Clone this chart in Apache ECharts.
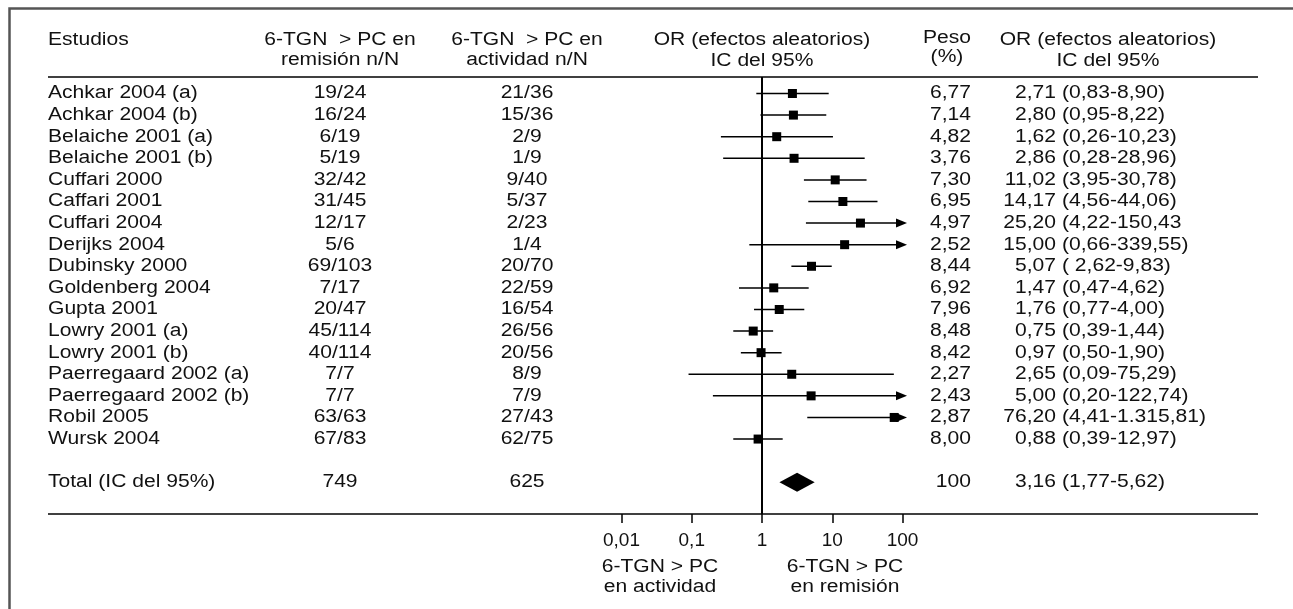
<!DOCTYPE html>
<html>
<head>
<meta charset="utf-8">
<script src="https://cdn.jsdelivr.net/npm/echarts@6/dist/echarts.min.js"></script>
<style>
html, body { margin: 0; padding: 0; background: #fff; }
#main { width: 1293px; height: 609px; }
</style>
</head>
<body>
<div id="main"></div>
<script>
var studies = ['Achkar 2004 (a)', 'Achkar 2004 (b)', 'Belaiche 2001 (a)', 'Belaiche 2001 (b)', 'Cuffari 2000',
  'Caffari 2001', 'Cuffari 2004', 'Derijks 2004', 'Dubinsky 2000', 'Goldenberg 2004', 'Gupta 2001',
  'Lowry 2001 (a)', 'Lowry 2001 (b)', 'Paerregaard 2002 (a)', 'Paerregaard 2002 (b)', 'Robil 2005', 'Wursk 2004'];
var remision = ['19/24', '16/24', '6/19', '5/19', '32/42', '31/45', '12/17', '5/6', '69/103', '7/17', '20/47',
  '45/114', '40/114', '7/7', '7/7', '63/63', '67/83'];
var actividad = ['21/36', '15/36', '2/9', '1/9', '9/40', '5/37', '2/23', '1/4', '20/70', '22/59', '16/54',
  '26/56', '20/56', '8/9', '7/9', '27/43', '62/75'];
var peso = [6.77, 7.14, 4.82, 3.76, 7.30, 6.95, 4.97, 2.52, 8.44, 6.92, 7.96, 8.48, 8.42, 2.27, 2.43, 2.87, 8.00];
var oddsRatio = [2.71, 2.80, 1.62, 2.86, 11.02, 14.17, 25.20, 15.00, 5.07, 1.47, 1.76, 0.75, 0.97, 2.65, 5.00, 76.20, 0.88];
var ciLow = [0.83, 0.95, 0.26, 0.28, 3.95, 4.56, 4.22, 0.66, 2.62, 0.47, 0.77, 0.39, 0.50, 0.09, 0.20, 4.41, 0.39];
var ciHigh = [8.90, 8.22, 10.23, 28.96, 30.78, 44.06, 150.43, 339.55, 9.83, 4.62, 4.00, 1.44, 1.90, 75.29, 122.74, 1315.81, 1.97];
var ciText = ['(0,83-8,90)', '(0,95-8,22)', '(0,26-10,23)', '(0,28-28,96)', '(3,95-30,78)', '(4,56-44,06)',
  '(4,22-150,43', '(0,66-339,55)', '( 2,62-9,83)', '(0,47-4,62)', '(0,77-4,00)', '(0,39-1,44)', '(0,50-1,90)',
  '(0,09-75,29)', '(0,20-122,74)', '(4,41-1.315,81)', '(0,39-12,97)'];

var totalText = ['Total (IC del 95%)', '749', '625', '100'];
var totalOR = [3.16, 1.77, 5.62];
var totalCi = '(1,77-5,62)';
var totalRow = 18;

var tickLabels = ['0,01', '0,1', '1', '10', '100'];

var FONT = '18px "Liberation Sans", Arial, Helvetica, sans-serif';
var SX = 1.17;
var ARROW_CAP = 116;
var COL = { name: 48, rem: 340, act: 527, peso: 971, est: 1056, ci: 1062 };

function txt(x, y, s, align) {
  return {
    type: 'text', x: x, y: y, scaleX: SX, silent: true,
    style: { text: s, fill: '#111', font: FONT, align: align || 'left', verticalAlign: 'middle' }
  };
}
function num(v) {
  var p = v.toFixed(2).split('.');
  p[0] = p[0].replace(/\B(?=(\d{3})+(?!\d))/g, '.');
  return p.join(',');
}

var myChart = echarts.init(document.getElementById('main'));

var rowData = studies.map(function (s, i) {
  return [oddsRatio[i], i, ciLow[i], ciHigh[i]];
});

var option = {
  animation: false,
  grid: { left: 621.5, right: 390.5, top: 77, bottom: 95 },
  xAxis: {
    type: 'log',
    logBase: 10,
    min: 0.01,
    max: 100,
    position: 'bottom',
    axisLine: { show: false, onZero: false },
    axisTick: { show: true, length: 9, lineStyle: { color: '#000', width: 1.5 } },
    splitLine: { show: false },
    axisLabel: {
      margin: 17,
      color: '#111',
      fontSize: 19,
      fontFamily: '"Liberation Sans", Arial, sans-serif',
      formatter: function (v) {
        return tickLabels[Math.round(Math.log(v) / Math.LN10) + 2];
      }
    }
  },
  yAxis: { type: 'value', inverse: true, min: -0.764, max: 19.47, show: false },
  graphic: [
    { type: 'polyline', silent: true, shape: { points: [[9.5, 609], [9.5, 8.5], [1293, 8.5]] },
      style: { stroke: '#555', lineWidth: 2.5, fill: null } },
    { type: 'line', silent: true, shape: { x1: 48, y1: 77, x2: 1258, y2: 77 }, style: { stroke: '#000', lineWidth: 1.5 } },
    { type: 'line', silent: true, shape: { x1: 48, y1: 514, x2: 1258, y2: 514 }, style: { stroke: '#000', lineWidth: 1.5 } },
    txt(COL.name, 40, 'Estudios'),
    txt(COL.rem, 40, '6-TGN  > PC en', 'center'),
    txt(COL.rem, 60, 'remisión n/N', 'center'),
    txt(COL.act, 40, '6-TGN  > PC en', 'center'),
    txt(COL.act, 60, 'actividad n/N', 'center'),
    txt(762, 40, 'OR (efectos aleatorios)', 'center'),
    txt(762, 61, 'IC del 95%', 'center'),
    txt(947, 38, 'Peso', 'center'),
    txt(947, 57, '(%)', 'center'),
    txt(1108, 40, 'OR (efectos aleatorios)', 'center'),
    txt(1108, 61, 'IC del 95%', 'center'),
    txt(660, 567, '6-TGN > PC', 'center'),
    txt(660, 587, 'en actividad', 'center'),
    txt(845, 567, '6-TGN > PC', 'center'),
    txt(845, 587, 'en remisión', 'center')
  ],
  series: [
    {
      type: 'custom',
      clip: false,
      silent: true,
      encode: { x: 0, y: 1 },
      data: rowData,
      renderItem: function (params, api) {
        var i = params.dataIndex;
        var c = api.coord([api.value(0), api.value(1)]);
        var y = c[1];
        var x0 = api.coord([api.value(2), i])[0];
        var hiV = api.value(3);
        var arrow = hiV > 100;
        var x1 = api.coord([arrow ? ARROW_CAP : hiV, i])[0];
        var kids = [
          { type: 'line', shape: { x1: x0, y1: y, x2: arrow ? x1 - 9 : x1, y2: y }, style: { stroke: '#000', lineWidth: 1.5 } },
          { type: 'rect', shape: { x: c[0] - 4.5, y: y - 4.5, width: 9, height: 9 }, style: { fill: '#000' } }
        ];
        if (arrow) {
          kids.push({ type: 'polygon', shape: { points: [[x1 - 11, y - 4.5], [x1, y], [x1 - 11, y + 4.5]] }, style: { fill: '#000' } });
        }
        kids.push(txt(COL.name, y, studies[i], 'left'));
        kids.push(txt(COL.rem, y, remision[i], 'center'));
        kids.push(txt(COL.act, y, actividad[i], 'center'));
        kids.push(txt(COL.peso, y, num(peso[i]), 'right'));
        kids.push(txt(COL.est, y, num(oddsRatio[i]), 'right'));
        kids.push(txt(COL.ci, y, ciText[i], 'left'));
        return { type: 'group', children: kids };
      },
      markLine: {
        silent: true,
        symbol: 'none',
        label: { show: false },
        lineStyle: { color: '#000', width: 2, type: 'solid' },
        data: [{ xAxis: 1 }]
      }
    },
    {
      type: 'custom',
      clip: false,
      silent: true,
      encode: { x: 0, y: 1 },
      data: [[totalOR[0], totalRow, totalOR[1], totalOR[2]]],
      renderItem: function (params, api) {
        var c = api.coord([api.value(0), api.value(1)]);
        var y = c[1];
        var xl = api.coord([api.value(2), totalRow])[0];
        var xr = api.coord([api.value(3), totalRow])[0];
        return {
          type: 'group',
          children: [
            { type: 'polygon', shape: { points: [[xl, y], [c[0], y - 9.5], [xr, y], [c[0], y + 9.5]] }, style: { fill: '#000' } },
            txt(COL.name, y, totalText[0], 'left'),
            txt(COL.rem, y, totalText[1], 'center'),
            txt(COL.act, y, totalText[2], 'center'),
            txt(COL.peso, y, totalText[3], 'right'),
            txt(COL.est, y, num(totalOR[0]), 'right'),
            txt(COL.ci, y, totalCi, 'left')
          ]
        };
      }
    }
  ]
};
myChart.setOption(option);
</script>
</body>
</html>
